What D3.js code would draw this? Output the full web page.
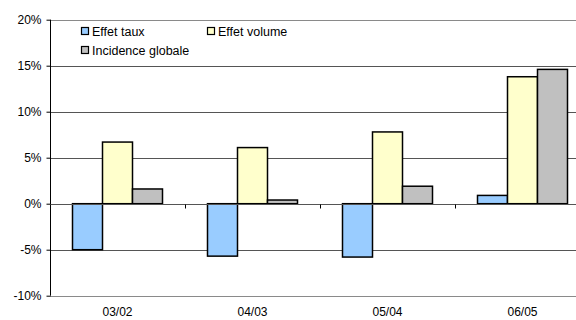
<!DOCTYPE html>
<html>
<head>
<meta charset="utf-8">
<script src="https://cdn.jsdelivr.net/npm/d3@7"></script>
<style>
  html, body { margin: 0; padding: 0; background: #fff; }
  svg { display: block; font-family: "Liberation Sans", Arial, sans-serif; }
</style>
</head>
<body>
<svg id="chart" width="576" height="320"></svg>
<script>
// Décomposition de la variation : effet taux, effet volume, incidence globale (%)
const categories = ["03/02", "04/03", "05/04", "06/05"];
const seriesNames = ["Effet taux", "Effet volume", "Incidence globale"];
const effetTaux = [-5.0, -5.7, -5.8, 0.9];
const effetVolume = [6.7, 6.1, 7.8, 13.8];
const incidenceGlobale = [1.6, 0.4, 1.9, 14.6];
const yTicks = [-10, -5, 0, 5, 10, 15, 20];
const colors = ["#99CCFF", "#FFFFCC", "#C0C0C0"];

const seriesValues = [effetTaux, effetVolume, incidenceGlobale];

const svg = d3.select("#chart");
const plotLeft = 50, plotRight = 590, plotTop = 19.7, plotBottom = 295.7;

const y = d3.scaleLinear().domain([-10, 20]).range([plotBottom, plotTop]);
const x0 = d3.scaleBand().domain(categories).range([plotLeft, plotRight])
  .paddingInner(1 / 3).paddingOuter(1 / 6);
const x1 = d3.scaleBand().domain(seriesNames).range([0, x0.bandwidth()]);

// Horizontal gridlines
svg.append("g")
  .selectAll("line")
  .data(yTicks)
  .join("line")
  .attr("x1", plotLeft).attr("x2", 576)
  .attr("y1", d => Math.round(y(d)) + 0.5).attr("y2", d => Math.round(y(d)) + 0.5)
  .attr("stroke", d => (d === 20 || d === -10) ? "#8a8a8a" : "#555")
  .attr("stroke-width", 1);

// Y axis
const yAxis = d3.axisLeft(y).tickValues(yTicks).tickSize(4).tickFormat(d => d + "%");
const gy = svg.append("g").attr("transform", `translate(${plotLeft + 0.5},0)`).call(yAxis);
gy.select(".domain").attr("stroke", "#000").attr("d", `M0,${y(-10)}V${y(20)}`);
gy.selectAll(".tick line").attr("stroke", "#000");
gy.selectAll(".tick text")
  .attr("x", -9)
  .attr("font-size", 12)
  .attr("fill", "#000")
  .attr("font-family", "Liberation Sans, Arial, sans-serif");

// Bars
const groups = svg.append("g")
  .selectAll("g")
  .data(categories)
  .join("g")
  .attr("transform", d => `translate(${x0(d)},0)`);

groups.selectAll("rect")
  .data((c, i) => seriesNames.map((s, k) => ({ s, k, v: seriesValues[k][i] })))
  .join("rect")
  .attr("x", d => x1(d.s))
  .attr("width", x1.bandwidth())
  .attr("y", d => y(Math.max(0, d.v)))
  .attr("height", d => Math.abs(y(d.v) - y(0)))
  .attr("fill", d => colors[d.k])
  .attr("stroke", "#000")
  .attr("stroke-width", 1.5);

// Category axis at zero
const xAxis = d3.axisBottom(x0).tickSize(0);
const zeroY = Math.round(y(0)) + 0.5;
svg.append("line")
  .attr("x1", plotLeft).attr("x2", 576)
  .attr("y1", zeroY).attr("y2", zeroY)
  .attr("stroke", "#555");
const boundaries = categories.map((c, i) => plotLeft + i * x0.step());
svg.append("g")
  .selectAll("line")
  .data(boundaries)
  .join("line")
  .attr("x1", d => Math.round(d) + 0.5).attr("x2", d => Math.round(d) + 0.5)
  .attr("y1", zeroY).attr("y2", zeroY + 4)
  .attr("stroke", "#000");

// Category labels below the plot
const gx = svg.append("g").attr("transform", `translate(0,${plotBottom})`).call(xAxis);
gx.select(".domain").remove();
gx.selectAll(".tick text")
  .attr("dy", 0)
  .attr("y", 20)
  .attr("font-size", 12)
  .attr("fill", "#000")
  .attr("font-family", "Liberation Sans, Arial, sans-serif");

// Legend
const legendPos = [[81, 32], [207, 32], [81, 51]];
const legend = svg.append("g")
  .selectAll("g")
  .data(seriesNames)
  .join("g")
  .attr("transform", (d, i) => `translate(${legendPos[i][0]},${legendPos[i][1]})`);
legend.append("rect")
  .attr("x", 0.5).attr("y", -4.5)
  .attr("width", 7).attr("height", 7)
  .attr("fill", (d, i) => colors[i])
  .attr("stroke", "#000").attr("stroke-width", 1.2);
legend.append("text")
  .attr("x", 11).attr("y", 4)
  .attr("font-size", 12.5)
  .attr("font-family", "Liberation Sans, Arial, sans-serif")
  .attr("fill", "#000")
  .text(d => d);
</script>
</body>
</html>
